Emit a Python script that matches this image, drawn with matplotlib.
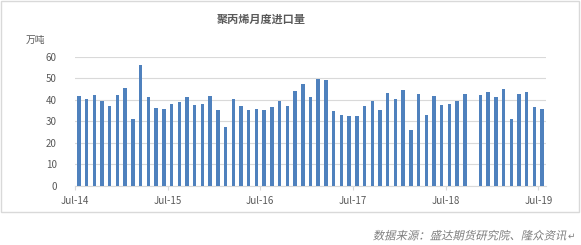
import matplotlib
matplotlib.use('Agg')
import matplotlib.pyplot as plt
from matplotlib.patches import Rectangle, PathPatch
from matplotlib.textpath import TextPath
from matplotlib.font_manager import FontProperties
from matplotlib.transforms import Affine2D, IdentityTransform
import numpy as np

plt.rcParams['font.family'] = ['Noto Sans CJK SC', 'DejaVu Sans']

# monthly PP imports, Jul-14 .. Jul-19 (万吨); Oct-18 has no value
imports = [41.7, 40.3, 42.2, 39.4, 37.1, 42.2, 45.4, 31.1, 56.1, 41.3, 36.2, 35.7,
           38.0, 38.9, 41.3, 37.6, 38.0, 41.7, 35.2, 27.4, 40.3, 37.1, 35.2, 35.7,
           35.2, 36.6, 39.4, 37.1, 44.0, 47.3, 41.3, 49.6, 49.1, 34.8, 32.9, 32.5,
           32.5, 37.1, 39.4, 35.2, 43.1, 40.3, 44.5, 26.0, 42.7, 32.9, 41.7, 37.6,
           38.0, 39.4, 42.7, None, 42.2, 43.6, 41.3, 45.0, 31.1, 42.7, 43.6, 36.6, 35.7]
tick_labels = ['Jul-14', 'Jul-15', 'Jul-16', 'Jul-17', 'Jul-18', 'Jul-19']
y_ticks = [0, 10, 20, 30, 40, 50, 60]
source = '数据来源：盛达期货研究院、隆众资讯'

W, H = 581, 245
fig = plt.figure(figsize=(W / 100, H / 100), dpi=100)

# chart area border
fig.patches.append(Rectangle((1 / W, 1 - 212 / H), 578 / W, 211 / H,
                             transform=fig.transFigure, fill=False,
                             edgecolor='#d9d9d9', lw=1))

ax = fig.add_axes([75 / W, 1 - 186 / H, 471 / W, (186 - 56.7) / H])

idx = [i for i, v in enumerate(imports) if v is not None]
vals = [imports[i] for i in idx]
ax.bar(np.array(idx) + 0.5, vals, width=0.45, color='#4f81bd', zorder=3)

ax.set_xlim(0, len(imports))
ax.set_ylim(0, 60)
ax.set_yticks(y_ticks)
ax.set_xticks(range(0, len(imports), 12))
ax.set_xticklabels(tick_labels)

ax.grid(axis='y', color='#d9d9d9', lw=0.8, zorder=0)
for s in ['left', 'top', 'right']:
    ax.spines[s].set_visible(False)
ax.spines['bottom'].set_color('#d9d9d9')
ax.tick_params(axis='y', length=0, pad=13, labelsize=7, labelcolor='#595959')
ax.tick_params(axis='x', length=3, color='#d9d9d9', pad=4, labelsize=7,
               labelcolor='#595959')

fig.text(261 / W, 1 - 19 / H, '聚丙烯月度进口量', ha='center', va='center',
         fontsize=8, fontweight='bold', color='#595959')
fig.text(35 / W, 1 - 40 / H, '万吨', ha='center', va='center',
         fontsize=7, color='#595959')

# source note: CJK font has no italic, so slant the glyph outlines by hand
tp = TextPath((0, 0), source, prop=FontProperties(family='Noto Sans CJK SC', size=8.2))
px = 100 / 72
tw = tp.get_extents().x1 * px
tr = Affine2D().skew_deg(12, 0).scale(px).translate(566 - tw, H - 239.5)
fig.patches.append(PathPatch(tr.transform_path(tp), transform=IdentityTransform(),
                             facecolor='#7f7f7f', edgecolor='none'))
fig.text(568 / W, 1 - 236 / H, '↵', family='DejaVu Sans', ha='left', va='center',
         fontsize=6.5, color='#7f7f7f')

fig.savefig('out.png', dpi=100)
